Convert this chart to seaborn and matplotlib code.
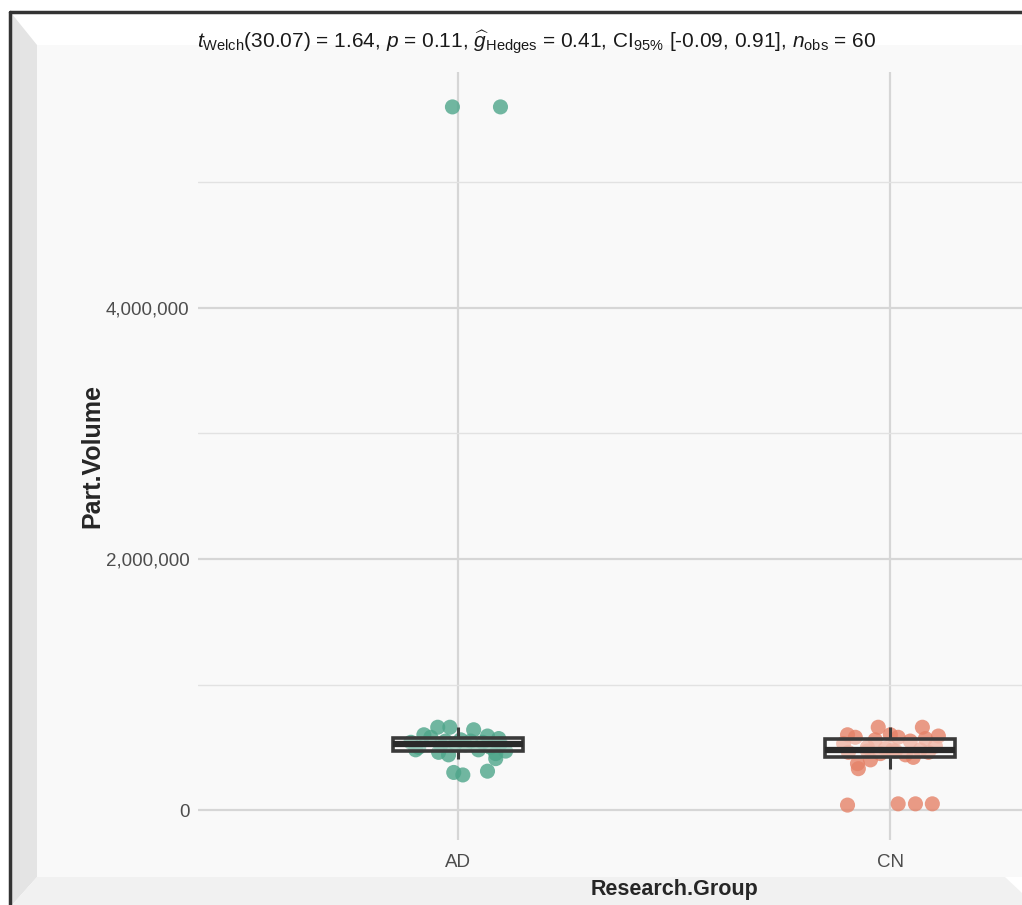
import numpy as np
import pandas as pd
import matplotlib
matplotlib.use("Agg")
import matplotlib.pyplot as plt
import matplotlib.ticker as mticker
from matplotlib.patches import Polygon
from matplotlib.lines import Line2D
import seaborn as sns

# Data (Part.Volume by research group)
groups = ["AD", "CN"]

ad_volume = [0.66, 0.66, 0.64, 0.60, 0.59, 0.57, 0.58, 0.56, 0.55, 0.55,
             0.54, 0.54, 0.53, 0.53, 0.52, 0.52, 0.50, 0.50, 0.48, 0.48,
             0.46, 0.45, 0.44, 0.41, 0.30, 0.31, 0.28, 0.47, 5.60, 5.60]
# horizontal jitter of each point, in category units
ad_jitter = [-0.046, -0.018, 0.037, -0.078, 0.069, 0.095, -0.062, 0.007, -0.028, 0.030,
             -0.108, 0.058, -0.005, 0.099, -0.039, 0.018, -0.090, 0.076, -0.097, 0.048,
             -0.044, 0.088, -0.021, 0.088, -0.009, 0.069, 0.012, 0.111, -0.012, 0.099]

cn_volume = [0.04, 0.05, 0.05, 0.05, 0.33, 0.37, 0.40, 0.42, 0.44, 0.45,
             0.46, 0.46, 0.47, 0.47, 0.48, 0.48, 0.49, 0.50, 0.51, 0.53,
             0.55, 0.56, 0.57, 0.58, 0.58, 0.59, 0.60, 0.60, 0.66, 0.66]
cn_jitter = [-0.099, 0.018, 0.058, 0.097, -0.074, -0.076, -0.046, 0.053,
             0.035, -0.023, -0.097, 0.088, -0.053, 0.012, 0.005, 0.069,
             -0.012, -0.053, 0.104, -0.108, 0.046, -0.035, 0.081, -0.081,
             0.018, 0.111, -0.099, 0.000, -0.028, 0.074]

point_colors = {"AD": "#4ea58a", "CN": "#e58268"}

subtitle = (r"$t_{\mathrm{Welch}}$(30.07) = 1.64, $p$ = 0.11, "
            r"$\widehat{g}_{\mathrm{Hedges}}$ = 0.41, CI$_{95\%}$ [-0.09, 0.91], "
            r"$n_{\mathrm{obs}}$ = 60")

df = pd.DataFrame({
    "Research.Group": ["AD"] * len(ad_volume) + ["CN"] * len(cn_volume),
    "Part.Volume": np.array(ad_volume + cn_volume) * 1e6,
    "jitter": ad_jitter + cn_jitter,
})
df["pos"] = df["Research.Group"].map({g: i for i, g in enumerate(groups)})
df["xj"] = df["pos"] + df["jitter"]

sns.set_theme(style="white")
plt.rcParams["font.family"] = ["Liberation Sans", "DejaVu Sans"]
plt.rcParams["mathtext.fontset"] = "custom"
plt.rcParams["mathtext.rm"] = "Liberation Sans"
plt.rcParams["mathtext.it"] = "Liberation Sans:italic"
plt.rcParams["mathtext.bf"] = "Liberation Sans:bold"

W, H = 1022, 905
fig = plt.figure(figsize=(W / 100, H / 100), dpi=100, facecolor="white")


def fx(x):
    return x / W


def fy(y):
    return 1 - y / H


# bevelled frame around the picture
frame = [
    ([(12, 14), (37, 45), (37, 877), (12, 905)], "#e4e4e4"),
    ([(12, 905), (37, 877), (1005, 877), (1022, 893), (1022, 905)], "#f1f1f1"),
    ([(37, 45), (1022, 45), (1022, 877), (37, 877)], "#f9f9f9"),
]
for pts, col in frame:
    fig.add_artist(Polygon([(fx(a), fy(b)) for a, b in pts], closed=True,
                           transform=fig.transFigure, facecolor=col,
                           edgecolor="none", zorder=0))
fig.add_artist(Line2D([fx(10), fx(10)], [fy(12), fy(905)], transform=fig.transFigure,
                      color="#333333", lw=2.5, zorder=1))
fig.add_artist(Line2D([fx(10), fx(1022)], [fy(12), fy(12)], transform=fig.transFigure,
                      color="#333333", lw=2.5, zorder=1))

# panel extends past the right edge, like the cropped original
ax = fig.add_axes([fx(198), fy(840), (1150 - 198) / W, (840 - 72) / H])
ax.set_facecolor("none")

sns.scatterplot(data=df, x="xj", y="Part.Volume", hue="Research.Group",
                palette=point_colors, s=118, alpha=0.8, linewidth=0,
                legend=False, ax=ax, zorder=2)

sns.boxplot(data=df, x="pos", y="Part.Volume", native_scale=True, orient="x",
            width=0.3, showfliers=False, showcaps=False, whis=1.5,
            boxprops=dict(facecolor=(1, 1, 1, 0.4), edgecolor="#3a3a3a", linewidth=2.6),
            whiskerprops=dict(color="#3a3a3a", linewidth=2.2),
            medianprops=dict(color="#2a2a2a", linewidth=4.5),
            ax=ax, zorder=3)

lo, hi = df["Part.Volume"].min(), df["Part.Volume"].max()
pad = 0.05 * (hi - lo)
ax.set_ylim(lo - pad, hi + pad)
ax.set_xlim(-0.6, 1.6)

ax.set_xticks(range(len(groups)))
ax.set_xticklabels(groups)
ax.set_yticks([0, 2e6, 4e6])
ax.yaxis.set_major_formatter(mticker.FuncFormatter(lambda v, _: f"{int(v):,}"))
ax.yaxis.set_minor_locator(mticker.FixedLocator([1e6, 3e6, 5e6]))

ax.grid(True, which="major", color="#d6d6d6", linewidth=1.6, zorder=0)
ax.grid(True, which="minor", axis="y", color="#e2e2e2", linewidth=1.0, zorder=0)
ax.set_axisbelow(True)
for sp in ax.spines.values():
    sp.set_visible(False)

ax.tick_params(axis="both", which="major", length=3, width=1, color="#333333",
               labelcolor="#4d4d4d", labelsize=13.5, pad=3)
ax.tick_params(axis="x", which="major", pad=7)
ax.tick_params(axis="y", which="minor", length=0)

ax.set_xlabel("Research.Group", fontsize=15.5, fontweight="bold", labelpad=6)
ax.set_ylabel("Part.Volume", fontsize=18, fontweight="bold", labelpad=1)

fig.text(fx(197), fy(42), subtitle, ha="left", va="center", fontsize=15,
         color="#1a1a1a")

fig.savefig("out.png", dpi=100, facecolor=fig.get_facecolor())
